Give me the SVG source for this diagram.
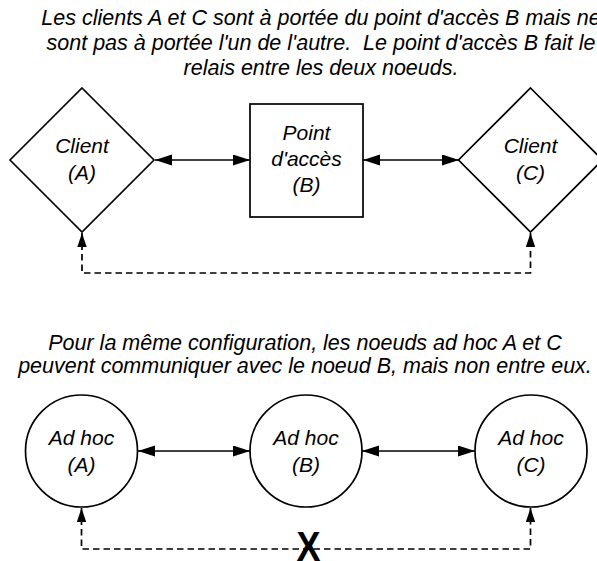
<svg xmlns="http://www.w3.org/2000/svg" width="597" height="561" viewBox="0 0 597 561">
<style>
.t{font-family:"Liberation Sans",Arial,sans-serif;font-style:italic;font-size:21.5px;fill:#000;text-anchor:middle}
.n{font-family:"Liberation Sans",Arial,sans-serif;font-style:italic;font-size:21px;fill:#000;text-anchor:middle}
.shape{fill:#fff;stroke:#000;stroke-width:1.7}
.c{fill:none;stroke:#000;stroke-width:1.7}
.d{fill:none;stroke:#000;stroke-width:1.7;stroke-dasharray:6.5 4}
</style>
<defs>
<marker id="ah" markerUnits="userSpaceOnUse" markerWidth="18" markerHeight="12" refX="17" refY="5.5" orient="auto-start-reverse" viewBox="0 0 18 12">
<path d="M0,0 L17,5.5 L0,11 z" fill="#000"/>
</marker>
<marker id="ahs" markerUnits="userSpaceOnUse" markerWidth="15" markerHeight="10" refX="14" refY="4.7" orient="auto-start-reverse" viewBox="0 0 15 10">
<path d="M0,0 L14,4.7 L0,9.4 z" fill="#000"/>
</marker>
</defs>
<rect width="597" height="561" fill="#fff"/>

<g id="caption-top">
<text class="t" x="321" y="25">Les clients A et C sont à portée du point d'accès B mais ne</text>
<text class="t" x="321" y="50" xml:space="preserve">sont pas à portée l'un de l'autre.  Le point d'accès B fait le</text>
<text class="t" x="321" y="75">relais entre les deux noeuds.</text>
</g>

<g id="connectors">
<line class="c" x1="155" y1="160" x2="250" y2="160" marker-start="url(#ah)" marker-end="url(#ah)"/>
<line class="c" x1="363" y1="160" x2="459" y2="160" marker-start="url(#ah)" marker-end="url(#ah)"/>
<path class="d" d="M82,233 V273 H530.5 V233" marker-start="url(#ahs)" marker-end="url(#ahs)"/>
<line class="c" x1="138" y1="451" x2="250" y2="451" marker-start="url(#ah)" marker-end="url(#ah)"/>
<line class="c" x1="362" y1="451" x2="475" y2="451" marker-start="url(#ah)" marker-end="url(#ah)"/>
<path class="d" d="M81.5,508 V549 H530.5 V508" marker-start="url(#ahs)" marker-end="url(#ahs)"/>
</g>

<g id="client-a">
<polygon class="shape" points="82,88 154,160 82,232 10,160"/>
<text class="n" x="82" y="153">Client</text>
<text class="n" x="82" y="180">(A)</text>
</g>

<g id="point-acces-b">
<rect class="shape" x="250" y="104" width="113" height="113"/>
<text class="n" x="306.5" y="140">Point</text>
<text class="n" x="306.5" y="166">d'accès</text>
<text class="n" x="306.5" y="192">(B)</text>
</g>

<g id="client-c">
<polygon class="shape" points="530.5,88 602.5,160 530.5,232 458.5,160"/>
<text class="n" x="530.5" y="153">Client</text>
<text class="n" x="530.5" y="180">(C)</text>
</g>

<g id="caption-bottom">
<text class="t" x="305" y="350">Pour la même configuration, les noeuds ad hoc A et C</text>
<text class="t" x="305" y="373">peuvent communiquer avec le noeud B, mais non entre eux.</text>
</g>

<g id="adhoc-a">
<circle class="shape" cx="81.5" cy="451" r="56"/>
<text class="n" x="81.5" y="445">Ad hoc</text>
<text class="n" x="81.5" y="472">(A)</text>
</g>

<g id="adhoc-b">
<circle class="shape" cx="306" cy="451" r="56"/>
<text class="n" x="306" y="445">Ad hoc</text>
<text class="n" x="306" y="472">(B)</text>
</g>

<g id="adhoc-c">
<circle class="shape" cx="531" cy="451" r="56"/>
<text class="n" x="531" y="445">Ad hoc</text>
<text class="n" x="531" y="472">(C)</text>
</g>

<g id="no-link">
<text x="308.5" y="561" font-family="'Liberation Sans',Arial,sans-serif" font-weight="bold" font-size="43" text-anchor="middle" textLength="24" lengthAdjust="spacingAndGlyphs">X</text>
</g>
</svg>
